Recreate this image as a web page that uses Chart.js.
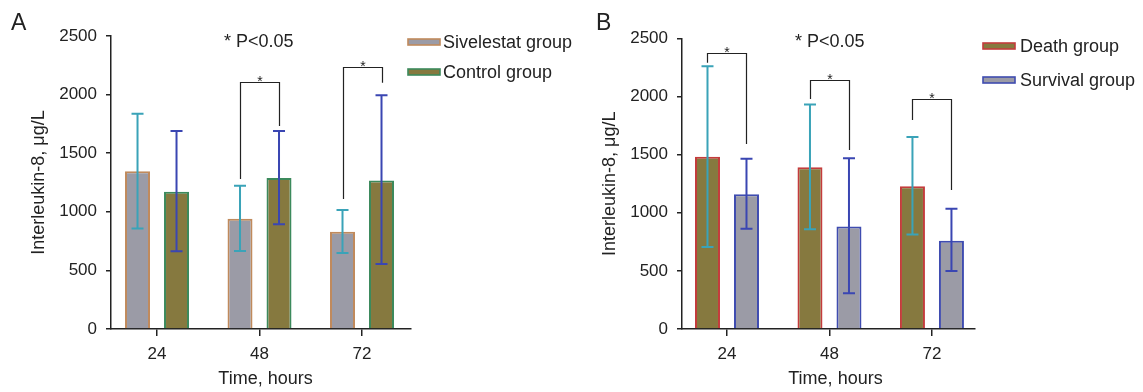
<!DOCTYPE html>
<html><head><meta charset="utf-8">
<script src="https://cdn.jsdelivr.net/npm/chart.js@4"></script>
<style>
html,body{margin:0;padding:0;background:#fff;width:1143px;height:392px;overflow:hidden;}
#wa{position:absolute;left:0;top:0;width:580px;height:392px;}
#wb{position:absolute;left:571px;top:0;width:572px;height:392px;}
canvas{display:block;}
</style></head><body>
<div id="wa"><canvas id="ca" width="580" height="392"></canvas></div>
<div id="wb"><canvas id="cb" width="572" height="392"></canvas></div>
<script>
// ---------- shared ----------
const categories = ['24', '48', '72'];
const yTickValues = [0, 500, 1000, 1500, 2000, 2500];
const xTitle = 'Time, hours';
const yTitle = 'Interleukin-8, \u03bcg/L';
const sigNote = '* P<0.05';

// ---------- Panel A ----------
const seriesNamesA = ['Sivelestat group', 'Control group'];
const sivelestatMean = [1345, 940, 830];
const sivelestatLow  = [858, 665, 648];
const sivelestatHigh = [1836, 1222, 1015];
const controlMean = [1172, 1288, 1268];
const controlLow  = [664, 893, 554];
const controlHigh = [1690, 1690, 1995];
const bracketCatA   = [1, 2];
const bracketTopA   = [2110, 2235];
const bracketLeftA  = [1280, 1109];
const bracketRightA = [1732, 2101];

// ---------- Panel B ----------
const seriesNamesB = ['Death group', 'Survival group'];
const deathMean = [1483, 1392, 1228];
const deathLow  = [706, 858, 814];
const deathHigh = [2261, 1932, 1652];
const survivalMean = [1159, 883, 760];
const survivalLow  = [863, 307, 499];
const survivalHigh = [1466, 1469, 1035];
const bracketCatB   = [0, 1, 2];
const bracketTopB   = [2378, 2143, 1979];
const bracketLeftB  = [2292, 1979, 1799];
const bracketRightB = [1592, 1540, 1196];

const FONT = "'Liberation Sans', Arial, Helvetica, sans-serif";
const INK = '#222';
const GRAY_FILL = '#9b9ba6';
const OLIVE_FILL = '#86793f';

const annot = {
  id: 'annot',
  afterDatasetsDraw(chart, args, o) {
    const ctx = chart.ctx, ys = chart.scales.y;
    chart.data.datasets.forEach((ds, i) => {
      const meta = chart.getDatasetMeta(i);
      ctx.save();
      ctx.strokeStyle = ds.errColor; ctx.lineWidth = 2;
      meta.data.forEach((el, j) => {
        const x = el.x;
        const yl = ys.getPixelForValue(ds.errLow[j]);
        const yh = ys.getPixelForValue(ds.errHigh[j]);
        ctx.beginPath();
        ctx.moveTo(x, yl); ctx.lineTo(x, yh);
        ctx.moveTo(x - 6, yh); ctx.lineTo(x + 6, yh);
        ctx.moveTo(x - 6, yl); ctx.lineTo(x + 6, yl);
        ctx.stroke();
      });
      ctx.restore();
    });
    const m0 = chart.getDatasetMeta(0), m1 = chart.getDatasetMeta(1);
    ctx.save();
    ctx.strokeStyle = INK; ctx.lineWidth = 1.2; ctx.fillStyle = INK;
    o.brCat.forEach((c, k) => {
      const xl = Math.round(m0.data[c].x) + 0.5, xr = Math.round(m1.data[c].x) + 0.5;
      const yt = Math.round(ys.getPixelForValue(o.brTop[k])) + 0.5;
      ctx.beginPath();
      ctx.moveTo(xl, ys.getPixelForValue(o.brLeft[k]));
      ctx.lineTo(xl, yt); ctx.lineTo(xr, yt);
      ctx.lineTo(xr, ys.getPixelForValue(o.brRight[k]));
      ctx.stroke();
      ctx.font = '14px ' + FONT; ctx.textAlign = 'center'; ctx.textBaseline = 'alphabetic';
      ctx.fillText('*', (xl + xr) / 2, yt + 3);
    });
    ctx.restore();
  },
  afterDraw(chart, args, o) {
    const ctx = chart.ctx, xs = chart.scales.x;
    ctx.save();
    ctx.fillStyle = INK;
    ctx.font = '23px ' + FONT; ctx.textAlign = 'left'; ctx.textBaseline = 'alphabetic';
    ctx.fillText(o.letter, o.letterX, 30);
    ctx.font = '18px ' + FONT; ctx.textBaseline = 'middle';
    ctx.fillText(sigNote, 224, 42);
    ctx.textAlign = 'center';
    ctx.fillText(xTitle, xs.getPixelForValue(1) + 6, 379);
    ctx.textAlign = 'left';
    chart.data.datasets.forEach((ds, i) => {
      const yc = o.legY[i];
      ctx.fillStyle = ds.backgroundColor;
      ctx.fillRect(o.legX, yc - 3, 32, 6);
      ctx.strokeStyle = ds.borderColor; ctx.lineWidth = 1.6;
      ctx.strokeRect(o.legX, yc - 3, 32, 6);
      ctx.fillStyle = INK;
      ctx.fillText(ds.label, o.legX + 35 + o.legGap, yc + 1);
    });
    ctx.restore();
  }
};

function makeChart(id, names, means, lows, highs, fills, borders, errColors,
                   xmin, xmax, padTop, padRight, br, extra) {
  const datasets = [0, 1].map(i => ({
    label: names[i],
    data: means[i].map((v, j) => ({ x: j, y: v })),
    backgroundColor: fills[i],
    borderColor: borders[i],
    borderWidth: 2,
    borderSkipped: 'bottom',
    errLow: lows[i], errHigh: highs[i], errColor: errColors[i],
    categoryPercentage: 0.761,
    barPercentage: 0.641
  }));
  return new Chart(document.getElementById(id), {
    type: 'bar',
    data: { datasets },
    plugins: [annot],
    options: {
      responsive: false, animation: false, devicePixelRatio: 1,
      layout: { padding: { top: padTop, right: padRight, left: 0, bottom: 0 } },
      plugins: {
        legend: { display: false }, tooltip: { enabled: false },
        annot: Object.assign({ brCat: br[0], brTop: br[1], brLeft: br[2], brRight: br[3] }, extra)
      },
      scales: {
        x: {
          type: 'linear', min: xmin, max: xmax, offset: false,
          afterBuildTicks: s => { s.ticks = categories.map((c, i) => ({ value: i })); },
          afterFit: s => { s.height = 63; },
          ticks: { callback: v => categories[v], color: INK, padding: 8, font: { size: 17, family: FONT } },
          grid: { offset: false, drawOnChartArea: false, drawTicks: true, tickLength: 7, color: INK, lineWidth: 1.5 },
          border: { display: true, color: INK, width: 1.5 }
        },
        y: {
          min: 0, max: 2500,
          afterBuildTicks: s => { s.ticks = yTickValues.map(v => ({ value: v })); },
          afterFit: s => { s.width = 111; },
          ticks: { callback: v => String(v), color: INK, padding: 9, font: { size: 17, family: FONT } },
          grid: { drawOnChartArea: false, drawTicks: true, tickLength: 5, color: INK, lineWidth: 1.5 },
          border: { display: true, color: INK, width: 1.5 },
          title: { display: true, text: yTitle, color: INK, padding: { top: 28, bottom: 0 }, font: { size: 18, family: FONT } }
        }
      }
    }
  });
}

makeChart('ca', seriesNamesA,
  [sivelestatMean, controlMean], [sivelestatLow, controlLow], [sivelestatHigh, controlHigh],
  [GRAY_FILL, OLIVE_FILL], ['#c08a5c', '#3c8a5c'], ['#3aa3b8', '#3a46b2'],
  -0.449, 2.478, 36, 169,
  [bracketCatA, bracketTopA, bracketLeftA, bracketRightA],
  { letter: 'A', letterX: 11, legX: 408, legY: [42, 72], legGap: 0 });

makeChart('cb', seriesNamesB,
  [deathMean, survivalMean], [deathLow, survivalLow], [deathHigh, survivalHigh],
  [OLIVE_FILL, GRAY_FILL], ['#c43c3c', '#3f4cb0'], ['#3aa3b8', '#3a46b2'],
  -0.439, 2.42, 38.5, 168,
  [bracketCatB, bracketTopB, bracketLeftB, bracketRightB],
  { letter: 'B', letterX: 25, legX: 412, legY: [46, 80], legGap: 2 });
</script>
</body></html>
